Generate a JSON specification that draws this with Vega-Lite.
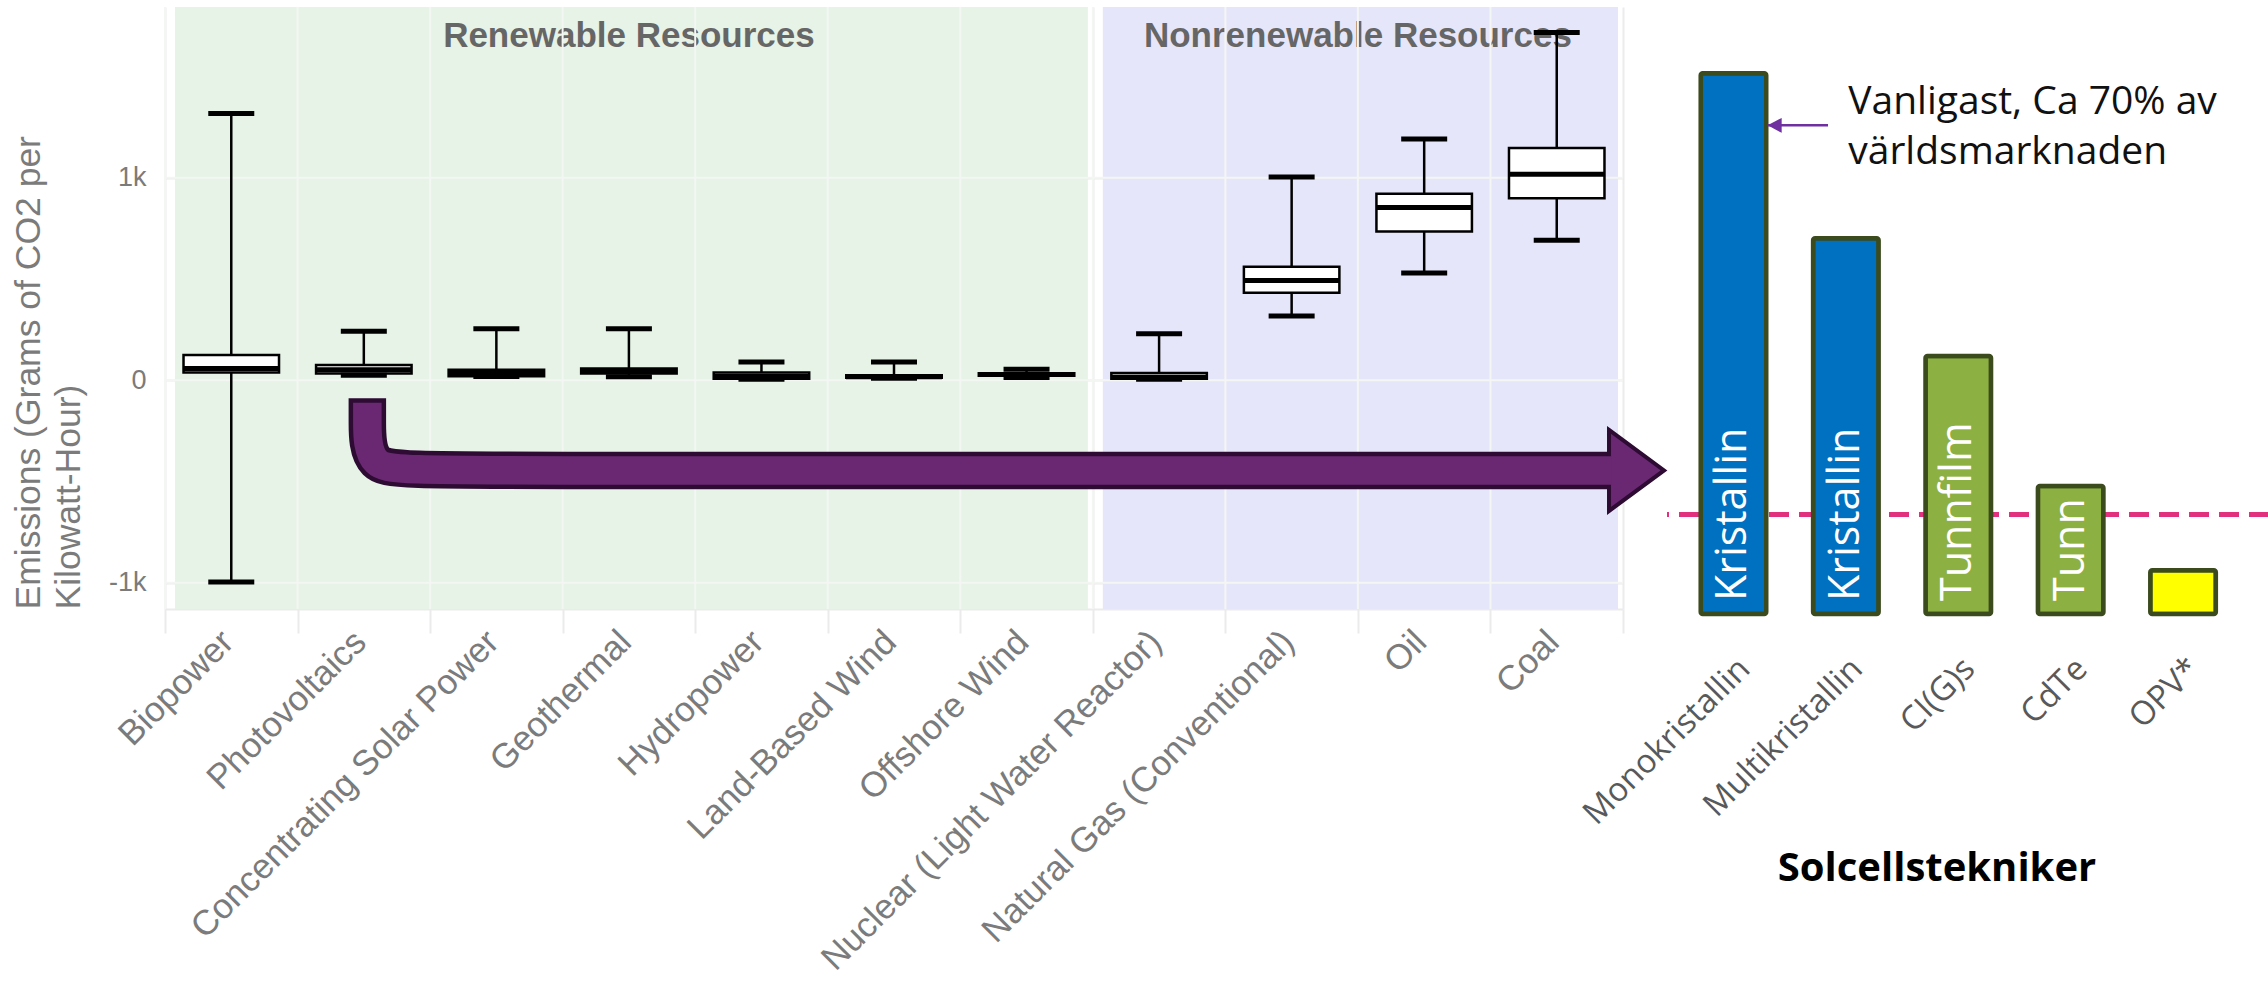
{
  "$schema": "https://vega.github.io/schema/vega-lite/v6.json",
  "background": "white",
  "padding": {"left": 11, "top": 6, "right": 0, "bottom": 0},
  "config": {"view": {"stroke": null}},
  "bounds": "flush",
  "spacing": 44,
  "resolve": {"scale": {"color": "independent"}},
  "datasets": {
    "groups": [
      {"group": "Renewable Resources", "from": 0, "to": 7},
      {"group": "Nonrenewable Resources", "from": 7, "to": 11}
    ],
    "boxes": [
      {"source": "Biopower", "lower": -997, "q1": 38, "median": 58, "q3": 125, "upper": 1318},
      {"source": "Photovoltaics", "lower": 25, "q1": 33, "median": 52, "q3": 76, "upper": 242},
      {"source": "Concentrating Solar Power", "lower": 18, "q1": 20, "median": 33, "q3": 52, "upper": 255},
      {"source": "Geothermal", "lower": 17, "q1": 34, "median": 45, "q3": 58, "upper": 255},
      {"source": "Hydropower", "lower": 5, "q1": 7, "median": 20, "q3": 38, "upper": 90},
      {"source": "Land-Based Wind", "lower": 10, "q1": 12, "median": 17, "q3": 25, "upper": 90},
      {"source": "Offshore Wind", "lower": 14, "q1": 22, "median": 28, "q3": 35, "upper": 54},
      {"source": "Nuclear (Light Water Reactor)", "lower": 5, "q1": 7, "median": 15, "q3": 36, "upper": 230},
      {"source": "Natural Gas (Conventional)", "lower": 317, "q1": 432, "median": 493, "q3": 561, "upper": 1004},
      {"source": "Oil", "lower": 530, "q1": 735, "median": 854, "q3": 922, "upper": 1192},
      {"source": "Coal", "lower": 692, "q1": 899, "median": 1018, "q3": 1147, "upper": 1718}
    ],
    "ygrid": [{"v": -1000}, {"v": 0}, {"v": 1000}],
    "arrowPath": [
      {"part": "outline", "seq": 0, "u": 1.5266, "v": -88.9},
      {"part": "outline", "seq": 1, "u": 1.5266, "v": -178.9},
      {"part": "outline", "seq": 2, "u": 1.5266, "v": -445.7},
      {"part": "outline", "seq": 3, "u": 1.934, "v": -445.7},
      {"part": "outline", "seq": 4, "u": 10.886, "v": -445.7},
      {"part": "fill", "seq": 0, "u": 1.5266, "v": -111.2},
      {"part": "fill", "seq": 1, "u": 1.5266, "v": -178.9},
      {"part": "fill", "seq": 2, "u": 1.5266, "v": -445.7},
      {"part": "fill", "seq": 3, "u": 1.934, "v": -445.7},
      {"part": "fill", "seq": 4, "u": 10.916, "v": -445.7}
    ],
    "arrowHead": [{"u": 11.102, "v": -445.7}],
    "cells": [
      {"teknik": "Monokristallin", "kategori": "Kristallin", "label": "Kristallin", "value": 89.1},
      {"teknik": "Multikristallin", "kategori": "Kristallin", "label": "Kristallin", "value": 61.9},
      {"teknik": "CI(G)s", "kategori": "Tunnfilm", "label": "Tunnfilm", "value": 42.5},
      {"teknik": "CdTe", "kategori": "Tunnfilm", "label": "Tunn", "value": 21.1},
      {"teknik": "OPV*", "kategori": "Organisk", "label": "", "value": 7.2}
    ],
    "refline": [{"niva": 16.4}],
    "annotArrow": [{"from": 0.841, "to": 0.304, "y": 80.5}],
    "annotText": [{"x": 1.021, "y": 82.4, "text": ["Vanligast, Ca 70% av", "världsmarknaden"]}]
  },
  "hconcat": [
    {
      "width": 1458,
      "height": 602,
      "resolve": {"scale": {"x": "independent"}, "axis": {"x": "independent"}},
      "layer": [
        {
          "data": {"name": "groups"},
          "transform": [{"calculate": "(datum.from + datum.to) / 2", "as": "mid"}],
          "layer": [
            {
              "mark": {"type": "rect", "xOffset": 10, "x2Offset": -5},
              "encoding": {
                "x": {"field": "from", "type": "quantitative", "scale": {"domain": [0, 11], "nice": false, "zero": false}, "axis": null},
                "x2": {"field": "to"},
                "color": {"field": "group", "type": "nominal", "scale": {"domain": ["Renewable Resources", "Nonrenewable Resources"], "range": ["#e6f3e6", "#e6e6fa"]}, "legend": null}
              }
            },
            {
              "mark": {"type": "text", "font": "Liberation Sans", "fontSize": 35, "fontWeight": "bold", "color": "#666666", "baseline": "alphabetic", "align": "center"},
              "encoding": {
                "x": {"field": "mid", "type": "quantitative", "scale": {"domain": [0, 11], "nice": false, "zero": false}, "axis": null},
                "y": {"datum": 1644, "type": "quantitative"},
                "text": {"field": "group"}
              }
            }
          ]
        },
        {
          "layer": [
            {
              "data": {"name": "boxes"},
              "mark": {"type": "rule", "stroke": "#f3f6f3", "strokeWidth": 2},
              "encoding": {"x": {"field": "source", "type": "nominal", "sort": null, "bandPosition": 0, "title": null}}
            },
            {
              "data": {"name": "ygrid"},
              "mark": {"type": "rule", "stroke": "#f3f6f3", "strokeWidth": 2},
              "encoding": {"y": {"field": "v", "type": "quantitative"}}
            },
            {
              "data": {"name": "boxes"},
              "mark": {"type": "rule", "stroke": "black", "strokeWidth": 2.5},
              "encoding": {
                "x": {
                  "field": "source", "type": "nominal", "sort": null,
                  "scale": {"type": "band", "paddingInner": 0, "paddingOuter": 0},
                  "axis": {
                    "title": null, "labelAngle": -45, "labelAlign": "right", "labelBaseline": "top",
                    "labelFont": "Liberation Sans", "labelFontSize": 35, "labelColor": "#7b7b7b",
                    "labelPadding": -9, "labelOffset": -16, "labelLimit": 1000, "labelOverlap": false,
                    "tickBand": "extent", "ticks": true, "tickSize": 24, "tickColor": "#ebebeb", "tickWidth": 2,
                    "grid": true, "gridColor": "#ececec", "gridWidth": 2,
                    "domain": true, "domainColor": "#ebebeb", "domainWidth": 2
                  }
                },
                "y": {
                  "field": "lower", "type": "quantitative",
                  "scale": {"domain": [-1130, 1844], "nice": false, "zero": false},
                  "axis": {
                    "title": ["Emissions (Grams of CO2 per", "Kilowatt-Hour)"],
                    "titleFont": "Liberation Sans", "titleFontSize": 35.5, "titleFontWeight": "normal",
                    "titleColor": "#7b7b7b", "titleAnchor": "start", "titleLineHeight": 40,
                    "titlePadding": 22, "titleLimit": 1000,
                    "values": [-1000, 0, 1000],
                    "labelExpr": "datum.value == 0 ? '0' : (datum.value / 1000) + 'k'",
                    "labelFont": "Liberation Sans", "labelFontSize": 27, "labelColor": "#7b7b7b",
                    "labelPadding": 19, "ticks": false, "tickSize": 0, "domain": false,
                    "grid": true, "gridColor": "#ececec", "gridWidth": 2
                  }
                },
                "y2": {"field": "upper"}
              }
            },
            {
              "data": {"name": "boxes"},
              "mark": {"type": "bar", "fill": "white", "stroke": "black", "strokeWidth": 2.5, "size": 95.5},
              "encoding": {
                "x": {"field": "source", "type": "nominal", "sort": null, "title": null},
                "y": {"field": "q1", "type": "quantitative"},
                "y2": {"field": "q3"}
              }
            },
            {
              "data": {"name": "boxes"},
              "mark": {"type": "tick", "color": "black", "size": 96, "thickness": 5, "opacity": 1},
              "encoding": {
                "x": {"field": "source", "type": "nominal", "sort": null, "title": null},
                "y": {"field": "median", "type": "quantitative"}
              }
            },
            {
              "data": {"name": "boxes"},
              "mark": {"type": "tick", "color": "black", "size": 46, "thickness": 5, "opacity": 1},
              "encoding": {
                "x": {"field": "source", "type": "nominal", "sort": null, "title": null},
                "y": {"field": "lower", "type": "quantitative"}
              }
            },
            {
              "data": {"name": "boxes"},
              "mark": {"type": "tick", "color": "black", "size": 46, "thickness": 5, "opacity": 1},
              "encoding": {
                "x": {"field": "source", "type": "nominal", "sort": null, "title": null},
                "y": {"field": "upper", "type": "quantitative"}
              }
            }
          ]
        },
        {
          "layer": [
            {
              "data": {"name": "arrowHead"},
              "mark": {"type": "point", "shape": "M-0.679,-1L0.679,0L-0.679,1Z", "size": 6561, "filled": true, "fill": "#6a2873", "stroke": "#2d0b33", "strokeWidth": 4, "opacity": 1},
              "encoding": {
                "x": {"field": "u", "type": "quantitative", "scale": {"domain": [0, 11], "nice": false, "zero": false}, "axis": null},
                "y": {"field": "v", "type": "quantitative"}
              }
            },
            {
              "data": {"name": "arrowPath"},
              "transform": [{"filter": "datum.part === 'outline'"}],
              "mark": {"type": "line", "interpolate": "basis", "stroke": "#2d0b33", "strokeWidth": 37.5, "strokeCap": "butt", "strokeJoin": "round"},
              "encoding": {
                "x": {"field": "u", "type": "quantitative", "scale": {"domain": [0, 11], "nice": false, "zero": false}, "axis": null},
                "y": {"field": "v", "type": "quantitative"},
                "order": {"field": "seq", "type": "quantitative"}
              }
            },
            {
              "data": {"name": "arrowPath"},
              "transform": [{"filter": "datum.part === 'fill'"}],
              "mark": {"type": "line", "interpolate": "basis", "stroke": "#6a2873", "strokeWidth": 28.5, "strokeCap": "butt", "strokeJoin": "round"},
              "encoding": {
                "x": {"field": "u", "type": "quantitative", "scale": {"domain": [0, 11], "nice": false, "zero": false}, "axis": null},
                "y": {"field": "v", "type": "quantitative"},
                "order": {"field": "seq", "type": "quantitative"}
              }
            }
          ]
        }
      ]
    },
    {
      "width": 602,
      "height": 607,
      "resolve": {"scale": {"x": "independent"}, "axis": {"x": "independent"}},
      "layer": [
        {
          "layer": [
            {
              "data": {"name": "refline"},
              "mark": {"type": "rule", "stroke": "#e0307e", "strokeWidth": 5, "strokeDash": [20, 10]},
              "encoding": {"y": {"field": "niva", "type": "quantitative", "scale": {"domain": [0, 100], "nice": false, "zero": true}, "axis": null}}
            },
            {
              "data": {"name": "cells"},
              "mark": {"type": "bar", "stroke": "#3b4b1d", "strokeWidth": 4.5, "cornerRadius": 2},
              "encoding": {
                "x": {
                  "field": "teknik", "type": "nominal", "sort": null,
                  "scale": {"type": "band", "paddingInner": 0.417, "paddingOuter": 0.3865, "align": 0.388},
                  "axis": {
                    "title": "Solcellstekniker", "titleFont": "Open Sans", "titleFontSize": 40, "titleFontWeight": "bold",
                    "titleColor": "#000000", "titleX": 269.5, "titleY": 266, "titleBaseline": "alphabetic", "titleAlign": "center",
                    "labelAngle": -45, "labelAlign": "right", "labelBaseline": "top",
                    "labelFont": "Open Sans", "labelFontSize": 33, "labelColor": "#595959",
                    "labelPadding": 38, "labelLimit": 1000, "labelOverlap": false,
                    "ticks": false, "domain": false, "grid": false
                  }
                },
                "y": {"field": "value", "type": "quantitative"},
                "color": {"field": "kategori", "type": "nominal", "scale": {"domain": ["Kristallin", "Tunnfilm", "Organisk"], "range": ["#0070c0", "#8db043", "#ffff00"]}, "legend": null}
              }
            },
            {
              "data": {"name": "cells"},
              "mark": {"type": "text", "angle": 270, "align": "left", "baseline": "middle", "dx": 13, "font": "Open Sans", "fontSize": 43, "color": "white"},
              "encoding": {
                "x": {"field": "teknik", "type": "nominal", "sort": null},
                "y": {"datum": 0, "type": "quantitative"},
                "text": {"field": "label"}
              }
            }
          ]
        },
        {
          "layer": [
            {
              "data": {"name": "annotArrow"},
              "mark": {"type": "rule", "stroke": "#7030a0", "strokeWidth": 2.5},
              "encoding": {
                "x": {"field": "from", "type": "quantitative", "scale": {"domain": [-0.5916, 4.7642], "nice": false, "zero": false}, "axis": null},
                "x2": {"field": "to"},
                "y": {"field": "y", "type": "quantitative"}
              }
            },
            {
              "data": {"name": "annotArrow"},
              "mark": {"type": "point", "shape": "M-1,0L1,-1.07L1,1.07Z", "size": 196, "filled": true, "fill": "#7030a0", "opacity": 1, "xOffset": 7},
              "encoding": {
                "x": {"field": "to", "type": "quantitative", "scale": {"domain": [-0.5916, 4.7642], "nice": false, "zero": false}, "axis": null},
                "y": {"field": "y", "type": "quantitative"}
              }
            },
            {
              "data": {"name": "annotText"},
              "mark": {"type": "text", "align": "left", "baseline": "alphabetic", "font": "Open Sans", "fontSize": 39, "lineHeight": 50.6, "color": "#111111"},
              "encoding": {
                "x": {"field": "x", "type": "quantitative", "scale": {"domain": [-0.5916, 4.7642], "nice": false, "zero": false}, "axis": null},
                "y": {"field": "y", "type": "quantitative"},
                "text": {"field": "text"}
              }
            }
          ]
        }
      ]
    }
  ]
}
